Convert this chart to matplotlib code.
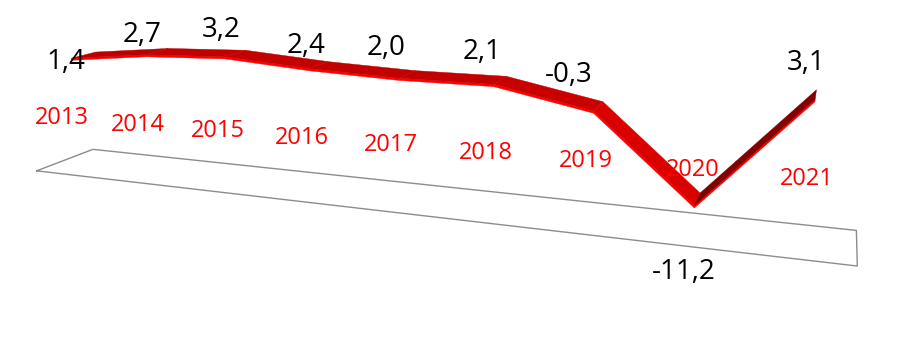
import numpy as np
import matplotlib.pyplot as plt

plt.rcParams['font.family'] = ['Open Sans', 'DejaVu Sans']

# Data
years = ['2013', '2014', '2015', '2016', '2017', '2018', '2019', '2020', '2021']
values = [1.4, 2.7, 3.2, 2.4, 2.0, 2.1, -0.3, -11.2, 3.1]

# 3D view: world (category, depth, value) -> pixel, perspective camera matrix
P = np.array([[72.0842, 65.4658, -1.26925, 18.6185],
              [4.00736, -10.7213, -7.0493, 69.5303],
              [-0.0261339, 0.0772992, -0.00237715, 1.0]])
z_floor = -15.25


def proj(X, Y, Z):
    h = P @ np.array([X, Y, Z, 1.0])
    return h[0] / h[2], h[1] / h[2]


fig = plt.figure(figsize=(9.11, 3.62), dpi=100)
ax = fig.add_axes([0, 0, 1, 1])
ax.set_xlim(0, 911)
ax.set_ylim(362, 0)
ax.axis('off')

n = len(values)

# floor
floor = [proj(0, 0, z_floor), proj(0, 1, z_floor), proj(n, 1, z_floor),
         proj(n, 0, z_floor), proj(0, 0, z_floor)]
ax.plot([p[0] for p in floor], [p[1] for p in floor], color='#8c8c8c', lw=1)

# ribbon line
y0, y1, t = 0.29, 0.71, 0.3
for i in range(n - 1):
    xa, xb = i + 0.5, i + 1.5
    za, zb = values[i], values[i + 1]
    front = [proj(xa, y0, za), proj(xb, y0, zb), proj(xb, y0, zb - t), proj(xa, y0, za - t)]
    top = [proj(xa, y0, za), proj(xb, y0, zb), proj(xb, y1, zb), proj(xa, y1, za)]
    pa, pb = proj(xa, 0.5, za), proj(xb, 0.5, zb)
    s = -(pb[1] - pa[1]) / np.hypot(pb[0] - pa[0], pb[1] - pa[1])
    shade = 0.75 - (0.354 if s > 0 else 0.156) * s
    ax.fill([p[0] for p in front], [p[1] for p in front], color='#ff0000', lw=0.3)
    ax.fill([p[0] for p in top], [p[1] for p in top], color=(min(shade, 1), 0, 0), lw=0.3)

# category labels
for i, yr in enumerate(years):
    x = proj(i + 0.5, 0, -6)[0]
    y = proj(i + 0.5, 0, 0)[1] + 46
    ax.text(x, y, yr, color='#ff0000', fontsize=17, ha='center', va='center')

# data labels
offs = [(-18, 7), (-15, -17), (-14, -23), (-13, -19), (-21, -26),
        (-18, -28), (-30, -31), (-14, 73), (-10, -31)]
for i, v in enumerate(values):
    x, y = proj(i + 0.5, 0.5, v)
    ax.text(x + offs[i][0], y + offs[i][1], f'{v:.1f}'.replace('.', ','),
            fontsize=20, ha='center', va='center')

fig.savefig('out.png', dpi=100)
